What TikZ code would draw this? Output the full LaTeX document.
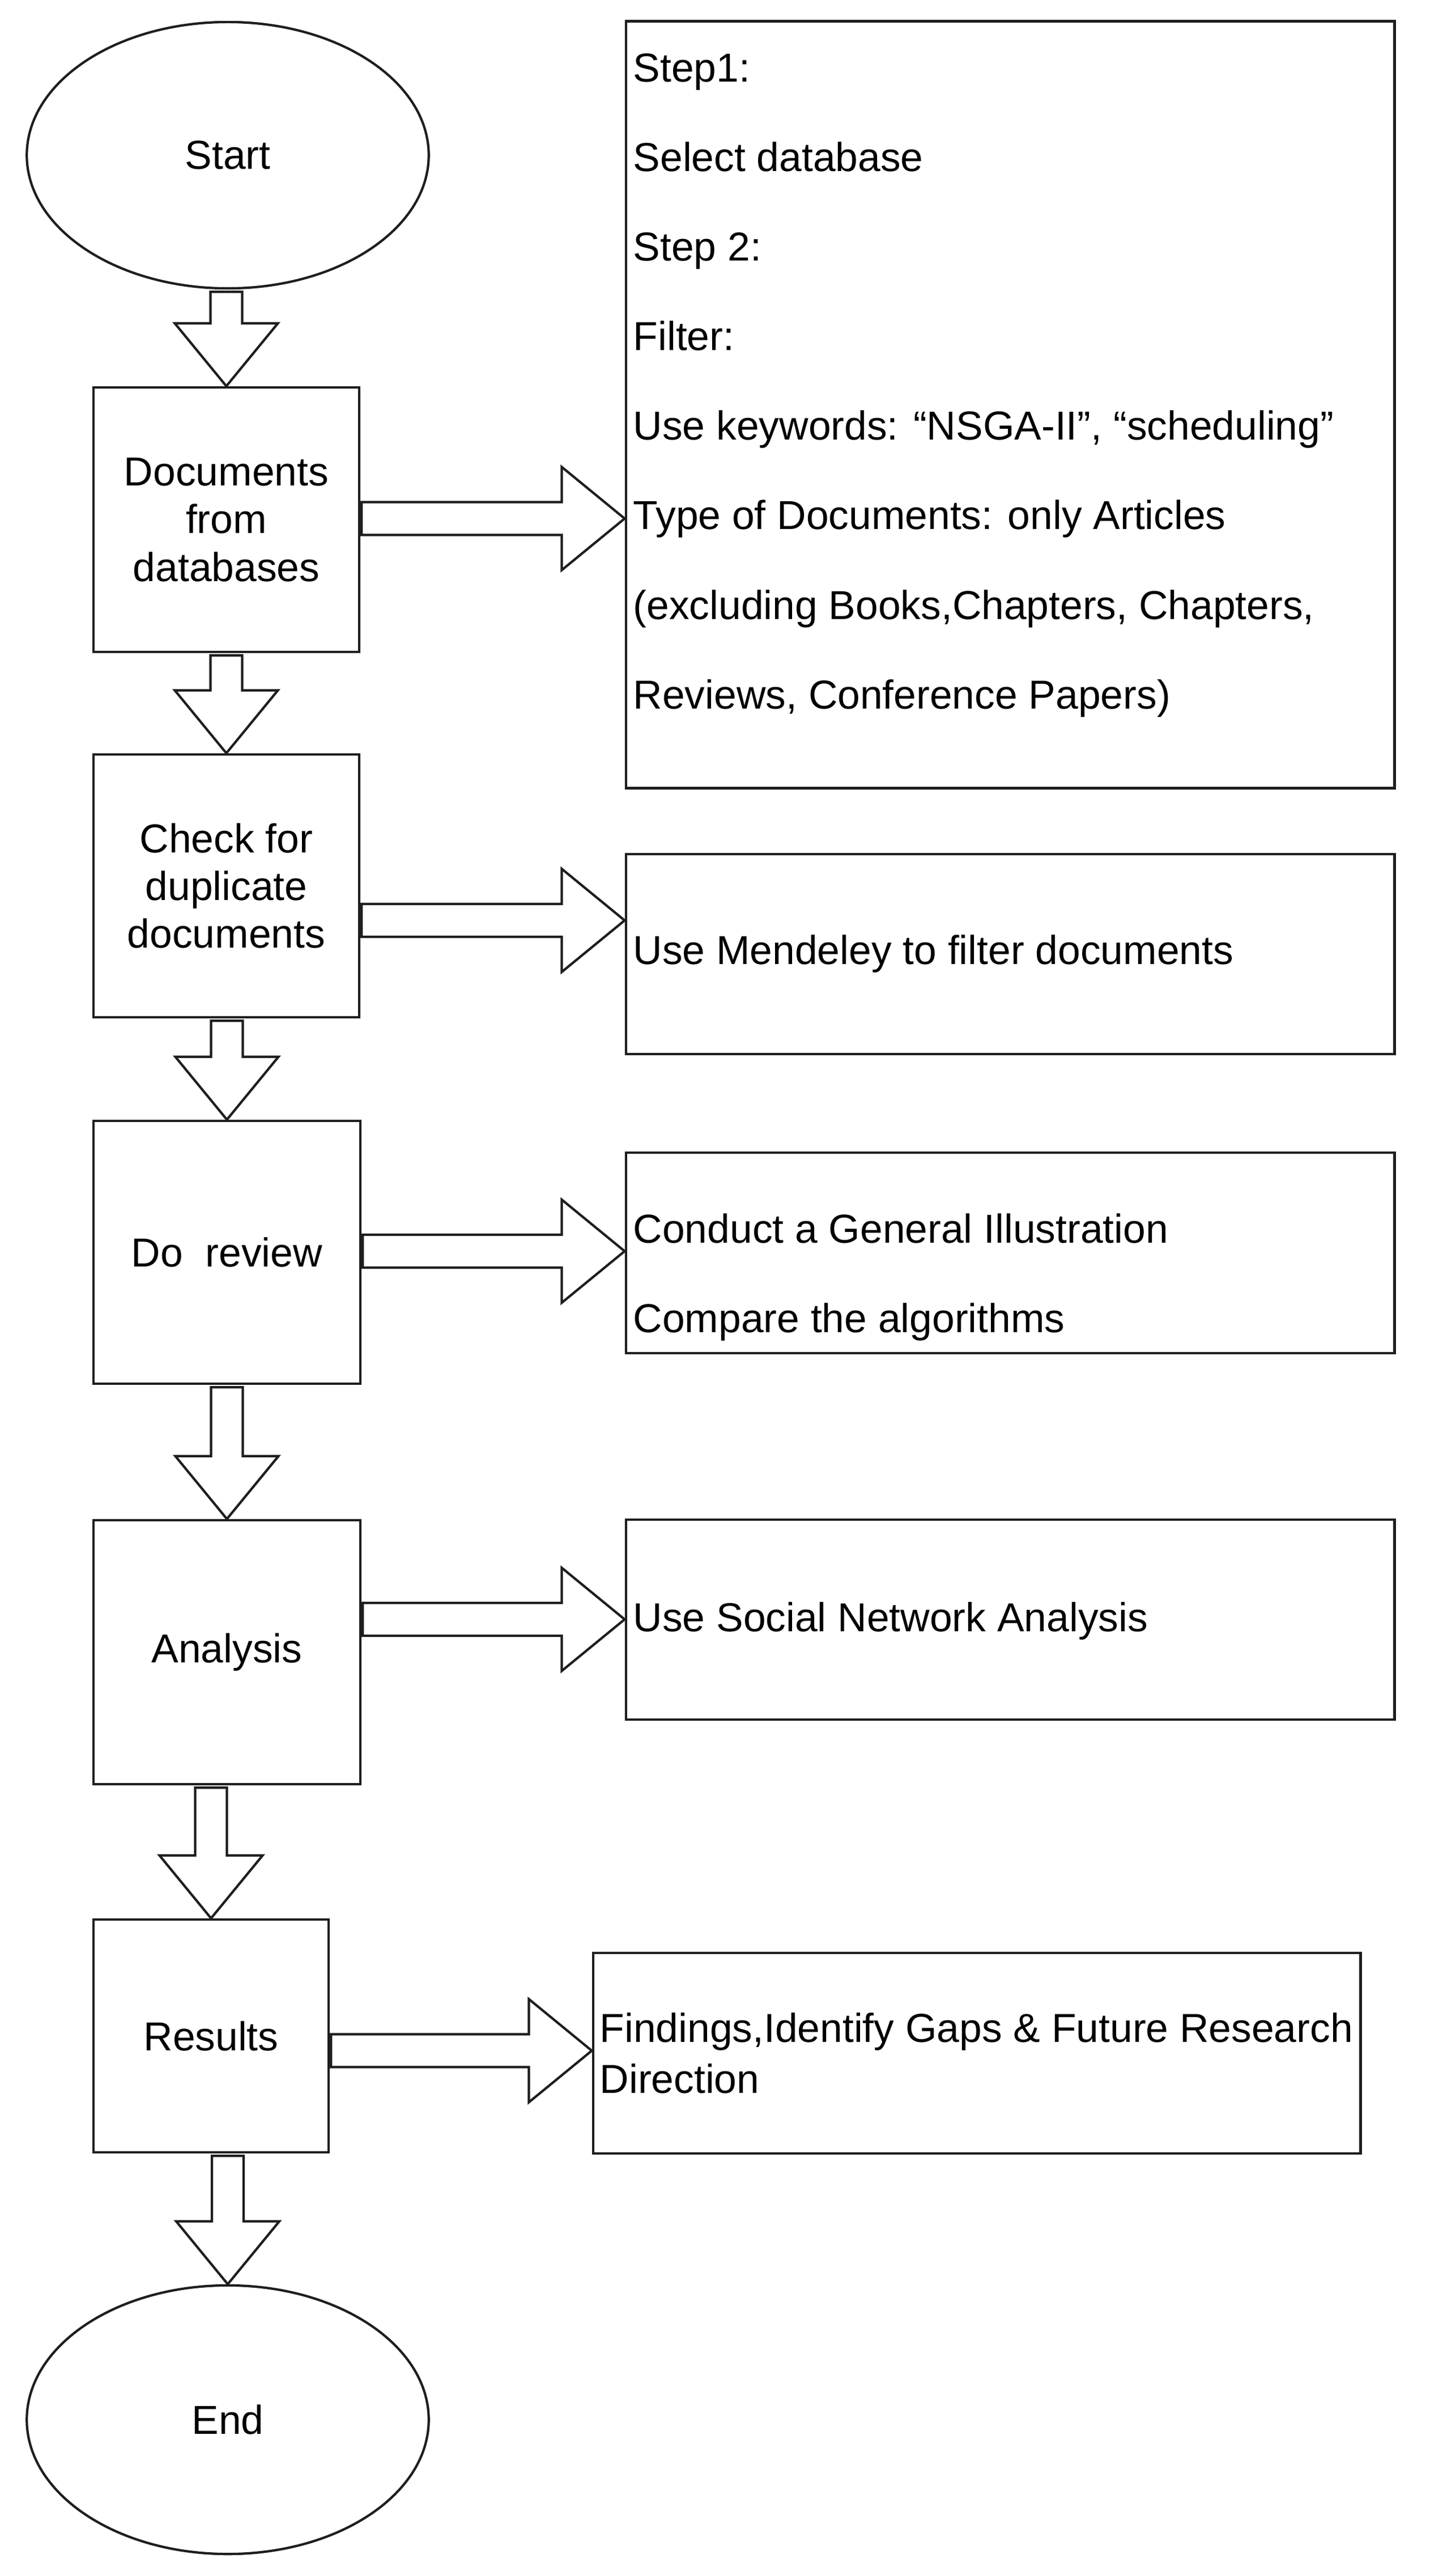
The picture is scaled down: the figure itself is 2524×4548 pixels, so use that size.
\documentclass[tikz,border=0pt]{standalone}
\usepackage{fontspec}
\setmainfont{Liberation Sans}
\usetikzlibrary{calc,shapes.geometric}
\definecolor{linec}{HTML}{1E1E1E}
\newcommand{\vconn}[2]{%
  \coordinate (vs) at (#1.south -| #2.north);
  \draw[blk] ($(vs)+(-28,4)$) -- ($(vs)+(28,4)$) -- ($(#2.north)+(28,-111)$) -- ($(#2.north)+(91,-111)$)
    -- (#2.north) -- ($(#2.north)+(-91,-111)$) -- ($(#2.north)+(-28,-111)$) -- cycle;}
\newcommand{\hconn}[3]{%
  \coordinate (ha) at ($(#1.east)+(2,#3)$);
  \coordinate (hb) at (ha -| #2.west);
  \draw[blk] ($(ha)+(0,-29)$) -- ($(hb)+(-111,-29)$) -- ($(hb)+(-111,-91)$) -- (hb)
    -- ($(hb)+(-111,91)$) -- ($(hb)+(-111,29)$) -- ($(ha)+(0,29)$) -- cycle;}
\begin{document}
\begin{tikzpicture}[x=0.01cm,y=-0.01cm,
  txt/.style={font=\fontsize{20.3}{24}\selectfont, text=black},
  term/.style={ellipse, draw=linec, line width=1.2pt, inner sep=0pt, txt},
  lbox/.style={rectangle, draw=linec, line width=1.2pt, inner sep=0pt, align=center, txt},
  rbox/.style={rectangle, draw=linec, line width=1.2pt, inner sep=0pt},
  rtext/.style={inner sep=0pt, align=left, txt},
  widetext/.style={font=\fontsize{20.3}{44.95}\selectfont},
  blk/.style={draw=linec, line width=1.2pt, fill=white, line join=miter}]
\useasboundingbox (0,0) rectangle (2524,4548);
\fill[white] (0,0) rectangle (2524,4548);

% left column
\node[term, minimum width=7.09cm, minimum height=4.70cm] (start) at (402,274) {Start};
\node[lbox, minimum width=4.69cm, minimum height=4.67cm] (doc) at (399.5,917.5) {Documents\\from\\databases};
\node[lbox, minimum width=4.69cm, minimum height=4.64cm] (check) at (399.5,1564) {Check for\\duplicate\\documents};
\node[lbox, minimum width=4.71cm, minimum height=4.64cm] (review) at (400.5,2211) {Do\ \ review};
\node[lbox, minimum width=4.71cm, minimum height=4.66cm] (analysis) at (400.5,2917) {Analysis};
\node[lbox, minimum width=4.15cm, minimum height=4.11cm] (results) at (372.5,3594.5) {Results};
\node[term, minimum width=7.09cm, minimum height=4.74cm] (end) at (402,4272) {End};

% right column
\node[rbox, minimum width=13.56cm, minimum height=13.53cm] (step) at (1783,714.5) {};
\node[rtext, widetext, anchor=north west] (steptext) at (1117,94)
  {Step1:\\Select database\\Step 2:\\Filter:\\Use keywords: “NSGA-II”, “scheduling”\\Type of Documents: only Articles\\(excluding Books,Chapters, Chapters,\\Reviews, Conference Papers)};
\node[rbox, minimum width=13.56cm, minimum height=3.53cm] (mend) at (1783,1684.5) {};
\node[rtext, anchor=west] (mendtext) at (1117,1684) {Use Mendeley to filter documents};
\node[rbox, minimum width=13.56cm, minimum height=3.54cm] (conduct) at (1783,2212) {};
\node[rtext, widetext, anchor=north west] (conducttext) at (1117,2142) {Conduct a General Illustration\\Compare the algorithms};
\node[rbox, minimum width=13.56cm, minimum height=3.53cm] (sna) at (1783,2859.5) {};
\node[rtext, anchor=west] (snatext) at (1117,2862) {Use Social Network Analysis};
\node[rbox, minimum width=13.54cm, minimum height=3.54cm] (find) at (1724,3625) {};
\node[rtext, font=\fontsize{20.3}{25.6}\selectfont, anchor=west] (findtext) at (1058,3625) {Findings,Identify Gaps \& Future Research\\Direction};

% vertical block arrows
\vconn{start}{doc}
\vconn{doc}{check}
\vconn{check}{review}
\vconn{review}{analysis}
\vconn{analysis}{results}
\vconn{results}{end}

% horizontal block arrows
\hconn{doc}{step}{-2}
\hconn{check}{mend}{61}
\hconn{review}{conduct}{-2}
\hconn{analysis}{sna}{-58}
\hconn{results}{find}{26}
\end{tikzpicture}
\end{document}
